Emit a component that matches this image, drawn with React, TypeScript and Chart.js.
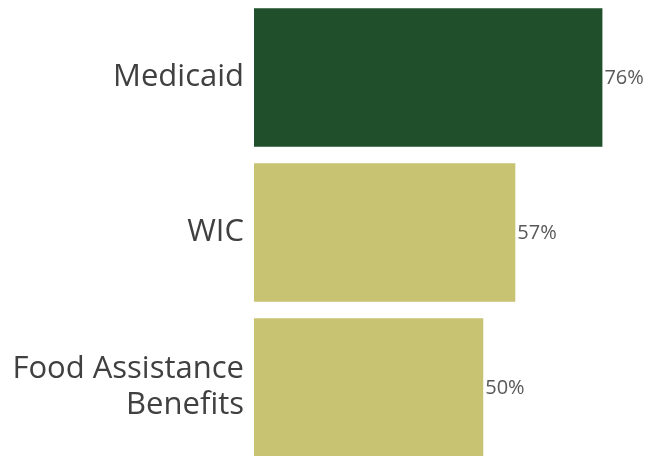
import React, { useEffect, useRef } from "react";
import { Chart, registerables } from "chart.js";

Chart.register(...registerables);

const categories: (string | string[])[] = ["Medicaid", "WIC", ["Food Assistance", "Benefits"]];
const values: number[] = [76, 57, 50];
const barColors: string[] = ["#1f4f2b", "#c8c372", "#c8c372"];

const dataLabelPlugin = {
  id: "dataLabels",
  afterDatasetsDraw(chart: any) {
    const ctx = chart.ctx;
    const meta = chart.getDatasetMeta(0);
    ctx.save();
    ctx.font = "20px 'Open Sans', sans-serif";
    ctx.fillStyle = "#595959";
    ctx.textAlign = "left";
    ctx.textBaseline = "middle";
    meta.data.forEach((bar: any, i: number) => {
      ctx.fillText(values[i] + "%", bar.x + 2, bar.y + 1);
    });
    ctx.restore();
  },
};

export default function App() {
  const ref = useRef<HTMLCanvasElement>(null);
  useEffect(() => {
    document.body.style.margin = "0";
    document.body.style.overflow = "hidden";
    const chart = new Chart(ref.current!, {
      type: "bar",
      data: {
        labels: categories,
        datasets: [
          {
            data: values,
            backgroundColor: barColors,
            categoryPercentage: 1,
            barPercentage: 0.895,
          },
        ],
      },
      options: {
        indexAxis: "y",
        animation: false,
        responsive: false,
        layout: { padding: 0 },
        plugins: { legend: { display: false }, tooltip: { enabled: false } },
        scales: {
          x: {
            min: 0,
            max: 89,
            display: false,
          },
          y: {
            grid: { display: false, drawTicks: false },
            border: { display: false },
            afterFit(scale: any) {
              scale.width = 254;
              scale.paddingTop = 0;
              scale.paddingBottom = 0;
            },
            ticks: {
              padding: 10,
              color: "#404040",
              font: { family: "'Open Sans', sans-serif", size: 31, lineHeight: 1.16 },
            },
          },
        },
      },
      plugins: [dataLabelPlugin],
    });
    return () => chart.destroy();
  }, []);
  return (
    <div style={{ width: 662, height: 456, overflow: "hidden", background: "#fff" }}>
      <canvas ref={ref} width={662} height={465} style={{ display: "block" }} />
    </div>
  );
}
